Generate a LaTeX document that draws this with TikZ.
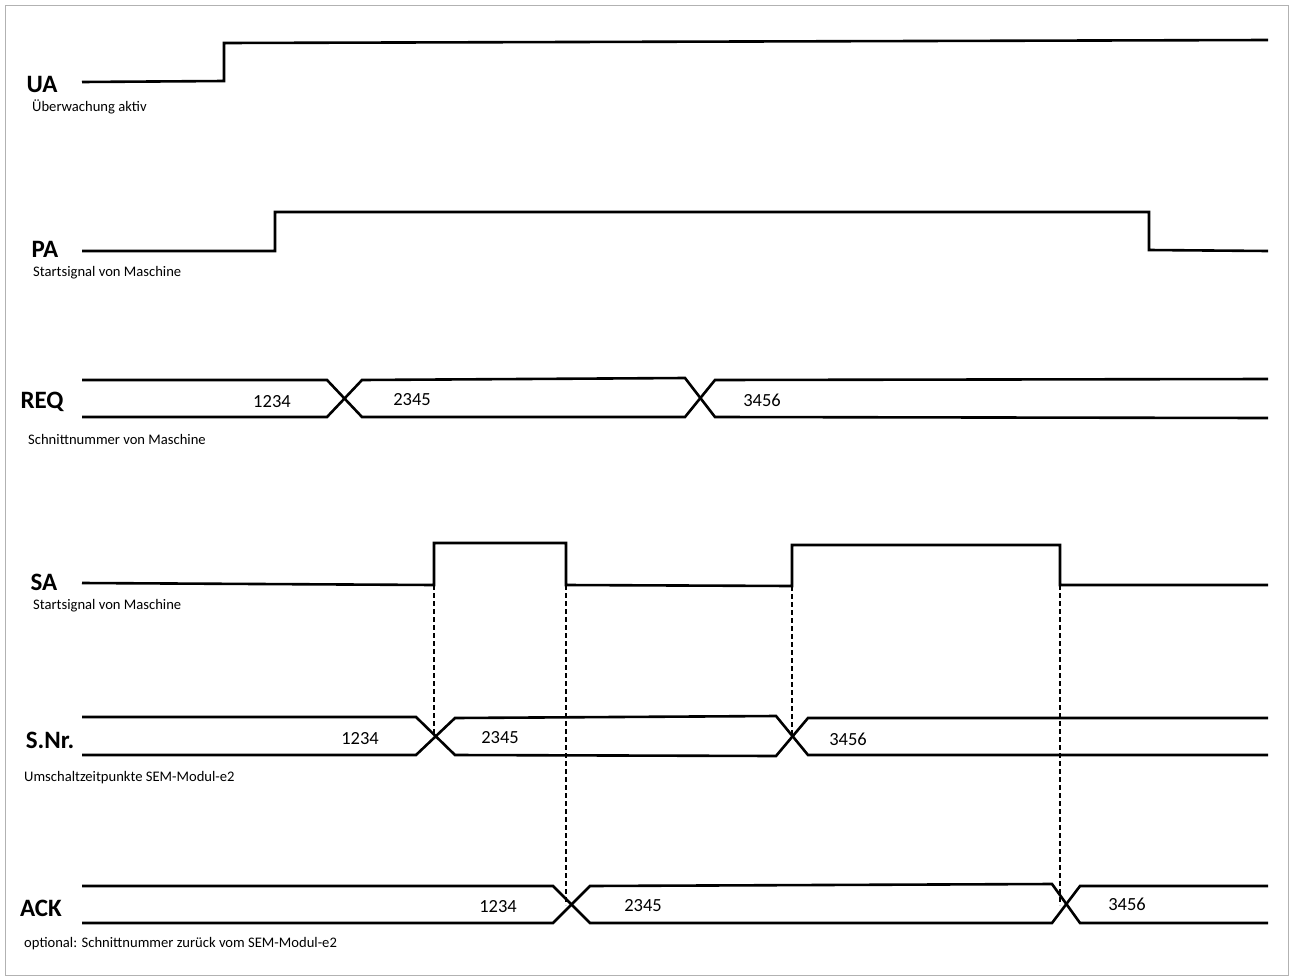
\documentclass[tikz,border=0pt]{standalone}
\usepackage{fontspec}
\setmainfont{Carlito}
\tikzset{
  sig/.style={line width=2.6pt,line join=miter},
  guide/.style={dash pattern=on 5pt off 3pt,line width=1.1pt},
  signame/.style={font=\fontsize{25}{28}\selectfont\bfseries},
  sub/.style={anchor=west,font=\fontsize{14.6}{16}\selectfont,inner sep=0pt},
  val/.style={font=\fontsize{18.5}{20}\selectfont,inner sep=0pt}
}
\begin{document}
\begin{tikzpicture}[x=1pt,y=-1pt]
\useasboundingbox (0,0) rectangle (1294,980);
\draw[gray!60,line width=1pt] (5,5) rectangle (1288,975);

% UA
\draw[sig] (82,82) -- (224,81) -- (224,43) -- (1268,40);
\node[signame] (ua) at (42,84) {UA};
\node[sub] (uat) at (32,107) {Überwachung aktiv};

% PA
\draw[sig] (82,251) -- (275,251) -- (275,212) -- (1149,212) -- (1149,250) -- (1268,251);
\node[signame] (pa) at (45,249) {PA};
\node[sub] (pat) at (33,273) {Startsignal von Maschine};

% REQ
\draw[sig] (82,380) -- (327,380) -- (362,417) -- (685,417) -- (715,380) -- (1268,379);
\draw[sig] (82,417) -- (327,417) -- (362,380) -- (685,378) -- (715,417) -- (1268,418);
\node[signame] (req) at (42,402) {REQ};
\node[sub] (reqt) at (28,439) {Schnittnummer von Maschine};
\node[val] (r1) at (272,402) {1234};
\node[val] (r2) at (412,400) {2345};
\node[val] (r3) at (762,400) {3456};

% SA
\draw[sig] (82,583) -- (434,585) -- (434,543) -- (566,543) -- (566,585) -- (792,586) -- (792,545) -- (1060,545) -- (1060,585) -- (1268,585);
\node[signame] (sa) at (44,582) {SA};
\node[sub] (sat) at (33,606) {Startsignal von Maschine};

% S.Nr.
\draw[sig] (82,717) -- (416,717) -- (455,755) -- (776,756) -- (808,718) -- (1268,718);
\draw[sig] (82,755) -- (416,755) -- (455,718) -- (776,716) -- (808,755) -- (1268,755);
\node[signame] (snr) at (50,740) {S.Nr.};
\node[sub] (snrt) at (24,778) {Umschaltzeitpunkte SEM-Modul-e2};
\node[val] (s1) at (360,739) {1234};
\node[val] (s2) at (500,738) {2345};
\node[val] (s3) at (848,739) {3456};

% ACK
\draw[sig] (82,886) -- (553,886) -- (590,923) -- (1052,923) -- (1080,886) -- (1268,886);
\draw[sig] (82,923) -- (553,923) -- (590,886) -- (1052,884) -- (1080,923) -- (1268,923);
\node[signame] (ack) at (41,908) {ACK};
\node[sub] (ackt) at (24,944) {optional: Schnittnummer zurück vom SEM-Modul-e2};
\node[val] (a1) at (498,907) {1234};
\node[val] (a2) at (643,906) {2345};
\node[val] (a3) at (1127,904) {3456};

% guides
\draw[guide] (434,585) -- (434,736);
\draw[guide] (566,585) -- (566,905);
\draw[guide] (792,586) -- (792,736);
\draw[guide] (1060,585) -- (1060,905);
\end{tikzpicture}
\end{document}
